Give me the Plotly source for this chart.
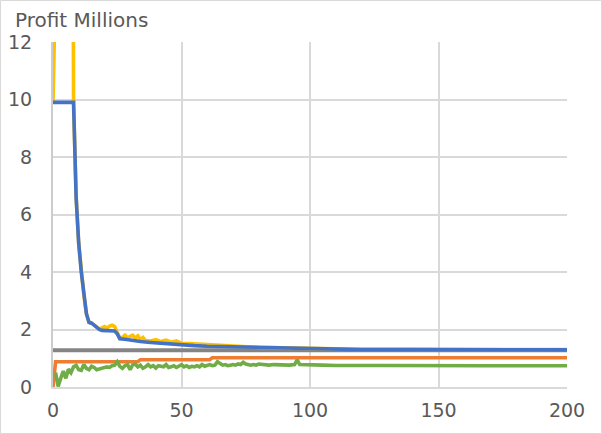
import plotly.graph_objects as go

# ---- data -------------------------------------------------------------
blue_x = [0, 8, 9, 10, 11, 12, 13, 14, 15, 16, 17, 18, 19, 20, 24, 25, 26, 28, 30, 32,
          34, 38, 42, 46, 50, 55, 60, 65, 70, 75, 80, 90, 100, 110, 120, 140, 160, 180, 200]
blue_y = [9.9, 9.9, 6.6, 5.0, 4.0, 3.2, 2.55, 2.25, 2.22, 2.15, 2.08, 2.0, 1.97, 1.96, 1.95,
          1.85, 1.68, 1.66, 1.63, 1.6, 1.58, 1.55, 1.52, 1.48, 1.46, 1.44, 1.42, 1.41, 1.39,
          1.37, 1.35, 1.34, 1.33, 1.31, 1.3, 1.3, 1.3, 1.29, 1.29]

yellow_x = [0, 1, 7, 8, 9, 10, 11, 12, 13, 14, 15, 16, 17, 18, 19, 20, 21, 22, 23, 24, 25,
            26, 27, 28, 29, 30, 31, 32, 33, 34, 35, 36, 38, 40, 42, 44, 46, 48, 50, 55, 60,
            65, 70, 75, 80, 85, 90, 95, 100, 110, 120, 140, 160, 180, 200]
yellow_y = [9.9, 40, 40, 9.9, 6.6, 5.0, 4.0, 3.2, 2.55, 2.25, 2.22, 2.15, 2.08, 2.02, 2.05,
            2.1, 2.05, 2.12, 2.15, 2.1, 1.9, 1.7, 1.72, 1.8, 1.72, 1.75, 1.8, 1.7, 1.78, 1.65,
            1.72, 1.62, 1.6, 1.65, 1.58, 1.63, 1.56, 1.6, 1.52, 1.5, 1.47, 1.44, 1.42, 1.41,
            1.38, 1.37, 1.36, 1.37, 1.35, 1.32, 1.31, 1.31, 1.31, 1.3, 1.3]

grey_x = [0, 200]
grey_y = [1.28, 1.28]

orange_x = [0, 1, 33, 34, 61, 62, 200]
orange_y = [0, 0.88, 0.88, 0.95, 0.95, 1.02, 1.02]

green_x = list(range(1, 81)) + [82, 84, 86, 88, 90, 92, 94, 95, 96, 98, 100, 105, 110,
                                115, 120, 130, 140, 150, 160, 170, 180, 190, 200]
green_y = [0.5, 0.02, 0.3, 0.55, 0.3, 0.62, 0.5, 0.7, 0.75, 0.6,
           0.58, 0.78, 0.65, 0.6, 0.72, 0.68, 0.6, 0.62, 0.66, 0.65,
           0.7, 0.68, 0.74, 0.76, 0.88, 0.72, 0.65, 0.74, 0.78, 0.6,
           0.77, 0.8, 0.7, 0.76, 0.65, 0.7, 0.78, 0.7, 0.74, 0.66,
           0.74, 0.72, 0.7, 0.78, 0.68, 0.7, 0.74, 0.68, 0.72, 0.78,
           0.7, 0.74, 0.68, 0.72, 0.7, 0.74, 0.7, 0.78, 0.72, 0.74,
           0.78, 0.74, 0.76, 0.88, 0.8, 0.76, 0.78, 0.74, 0.76, 0.78,
           0.76, 0.8, 0.78, 0.86, 0.8, 0.78, 0.76, 0.78, 0.76, 0.8,
           0.78, 0.76, 0.78, 0.77, 0.78, 0.76, 0.78, 0.94, 0.78, 0.77, 0.76, 0.76, 0.75,
           0.76, 0.75, 0.75, 0.74, 0.75, 0.74, 0.74, 0.74, 0.74, 0.74]

x_ticks = [0, 50, 100, 150, 200]
y_ticks = [0, 2, 4, 6, 8, 10, 12]

# ---- figure -------------------------------------------------------------
W, H = 602, 434
ML, MR, MT, MB = 53, 35, 42, 47
PW, PH = W - ML - MR, H - MT - MB
TEXT = "#595959"
GRID = "#d9d9d9"
LW = 3.6

fig = go.Figure()
fig.add_trace(go.Scatter(x=grey_x, y=grey_y, mode="lines",
                         line=dict(color="#848484", width=3.9)))
fig.add_trace(go.Scatter(x=orange_x, y=orange_y, mode="lines",
                         line=dict(color="#ED7D31", width=LW)))
fig.add_trace(go.Scatter(x=green_x, y=green_y, mode="lines",
                         line=dict(color="#70AD47", width=LW)))
fig.add_trace(go.Scatter(x=yellow_x, y=yellow_y, mode="lines",
                         line=dict(color="#FFC000", width=LW)))
fig.add_trace(go.Scatter(x=blue_x, y=blue_y, mode="lines",
                         line=dict(color="#4472C4", width=LW)))

fig.update_layout(
    width=W, height=H,
    margin=dict(l=ML, r=MR, t=MT, b=MB, autoexpand=False),
    paper_bgcolor="white", plot_bgcolor="white",
    showlegend=False,
    font=dict(family="DejaVu Sans", size=19, color=TEXT),
)
fig.update_xaxes(range=[0, 200], tickvals=x_ticks, ticks="", automargin=False,
                 showgrid=True, gridcolor=GRID, gridwidth=2,
                 zeroline=False, showline=True, linecolor=GRID, linewidth=2,
                 ticklabelstandoff=5, tickfont=dict(size=19, color=TEXT))
fig.update_yaxes(range=[0, 12], tickvals=y_ticks, ticks="", automargin=False,
                 showgrid=True, gridcolor=GRID, gridwidth=2,
                 zeroline=False, showline=True, linecolor="#cccccc", linewidth=2,
                 ticklabelstandoff=15, tickfont=dict(size=19, color=TEXT))

# axis caption above the value axis
fig.add_annotation(text="Profit Millions", xref="paper", yref="paper",
                   x=(13 - ML) / PW, y=1 + (MT - 20) / PH,
                   xanchor="left", yanchor="middle", showarrow=False,
                   font=dict(family="DejaVu Sans", size=20, color=TEXT))

# chart frame
fig.add_shape(type="rect", xref="paper", yref="paper",
              x0=(0.5 - ML) / PW, x1=(W - 0.5 - ML) / PW,
              y0=-(MB - 0.5) / PH, y1=1 + (MT - 0.5) / PH,
              line=dict(color=GRID, width=1), layer="below")

fig.write_html("out.html")
